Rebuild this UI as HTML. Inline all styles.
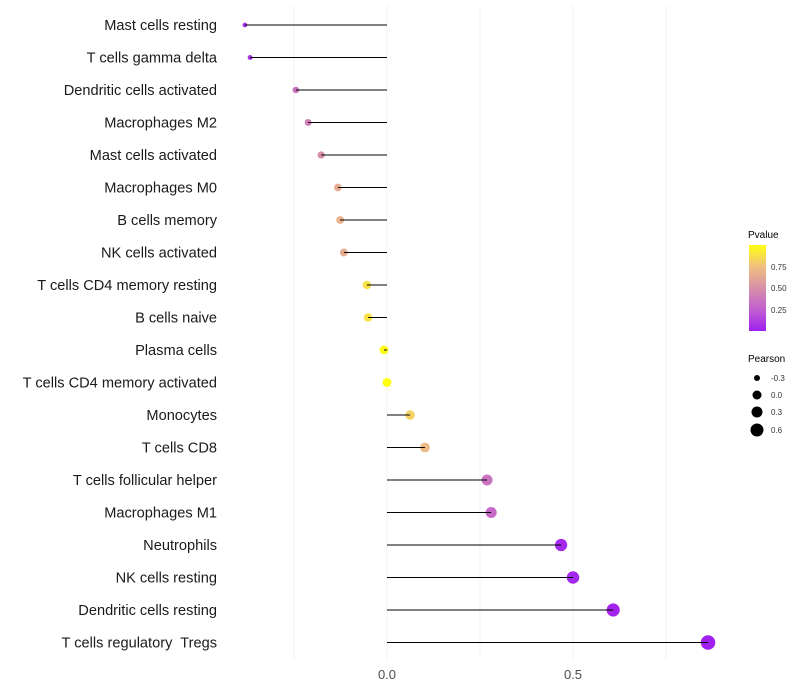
<!DOCTYPE html>
<html><head><meta charset="utf-8"><style>
body{margin:0;background:#fff;}
svg{display:block;font-family:"Liberation Sans",sans-serif;}
</style></head><body>
<svg id="chart" width="800" height="700" viewBox="0 0 800 700">
<defs>
<linearGradient id="pg" x1="0" y1="1" x2="0" y2="0">
<stop offset="0" stop-color="#A020F0"/>
<stop offset="0.25" stop-color="#C060D0"/>
<stop offset="0.5" stop-color="#D890A8"/>
<stop offset="0.75" stop-color="#F0C080"/>
<stop offset="1" stop-color="#FFFF10"/>
</linearGradient>
</defs>
<g id="grid"></g>
<g id="marks"></g>
<g id="labels"></g>
<g id="xticks"></g>
<g>
<text x="748" y="238" font-size="10" fill="#000">Pvalue</text>
<rect x="749" y="245" width="17" height="86" fill="url(#pg)"/>
<text x="771" y="270" font-size="8" fill="#333">0.75</text>
<text x="771" y="291" font-size="8" fill="#333">0.50</text>
<text x="771" y="313" font-size="8" fill="#333">0.25</text>
</g>
<g>
<text x="748" y="362" font-size="10" fill="#000">Pearson</text>
<circle cx="757" cy="378" r="3" fill="#000"/><text x="771" y="381" font-size="8" fill="#333">-0.3</text>
<circle cx="757" cy="395" r="4.5" fill="#000"/><text x="771" y="398" font-size="8" fill="#333">0.0</text>
<circle cx="757" cy="412" r="5.5" fill="#000"/><text x="771" y="415" font-size="8" fill="#333">0.3</text>
<circle cx="757" cy="430" r="6.5" fill="#000"/><text x="771" y="433" font-size="8" fill="#333">0.6</text>
</g>
</svg>
<script>
const categories=["Mast cells resting","T cells gamma delta","Dendritic cells activated","Macrophages M2","Mast cells activated","Macrophages M0","B cells memory","NK cells activated","T cells CD4 memory resting","B cells naive","Plasma cells","T cells CD4 memory activated","Monocytes","T cells CD8","T cells follicular helper","Macrophages M1","Neutrophils","NK cells resting","Dendritic cells resting","T cells regulatory  Tregs"];
const pearson=[-0.382,-0.368,-0.245,-0.212,-0.177,-0.132,-0.126,-0.116,-0.054,-0.051,-0.008,0.0,0.062,0.102,0.269,0.280,0.468,0.500,0.608,0.863];
const pvalues=[0.05,0.08,0.35,0.42,0.5,0.65,0.68,0.65,0.88,0.88,0.98,1.0,0.82,0.72,0.35,0.3,0.04,0.03,0.02,0.001];
const xTicks=[0.0,0.5];
const xGrid=[-0.25,0,0.25,0.5,0.75];
const NS="http://www.w3.org/2000/svg";
const x=v=>387+v*372;
const y=i=>25+i*32.5;
const r=v=>Math.sqrt(Math.max(3,20+38*v));
const stops=[[0,[160,32,240]],[0.25,[192,96,208]],[0.5,[216,144,168]],[0.75,[240,192,128]],[1,[255,255,16]]];
function col(p){for(let k=1;k<stops.length;k++){if(p<=stops[k][0]){const a=stops[k-1],b=stops[k];const t=(p-a[0])/(b[0]-a[0]);const c=a[1].map((v,j)=>Math.round(v+(b[1][j]-v)*t));return `rgb(${c.join(',')})`;}}return 'rgb(255,255,16)';}
function mk(tag,attrs,parent){const e=document.createElementNS(NS,tag);for(const k in attrs)e.setAttribute(k,attrs[k]);parent.appendChild(e);return e;}
const grid=document.getElementById('grid'),marks=document.getElementById('marks'),labels=document.getElementById('labels'),xt=document.getElementById('xticks');
xGrid.forEach(v=>{const l=mk('line',{x1:x(v),x2:x(v),y1:5,y2:660,stroke:'#f3f3f3','stroke-width':1},grid);

});
xTicks.forEach(v=>{const t=mk('text',{x:x(v),y:679,'font-size':13,fill:'#4d4d4d','text-anchor':'middle'},xt);t.textContent=v.toFixed(1);

});
categories.forEach((c,i)=>{
const t=mk('text',{x:217,y:y(i)+5,'font-size':14.6,fill:'#1a1a1a','text-anchor':'end',style:'white-space:pre'},labels);t.textContent=c;


const ci=mk('circle',{cx:x(pearson[i]),cy:y(i),r:r(pearson[i]),fill:col(pvalues[i])},marks);


const l=mk('line',{x1:x(0),x2:x(pearson[i]),y1:y(i),y2:y(i),stroke:'#000','stroke-width':1},marks);


});
</script>
</body></html>
